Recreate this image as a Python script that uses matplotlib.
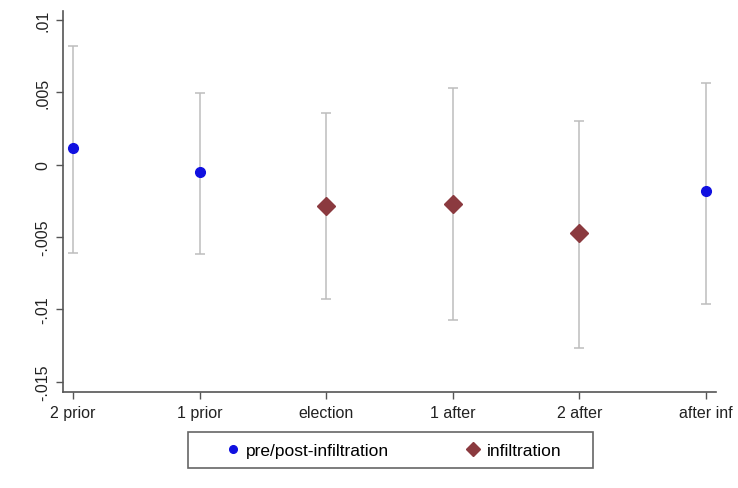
import matplotlib
matplotlib.use("Agg")
import matplotlib.pyplot as plt
from matplotlib.lines import Line2D
from matplotlib.patches import Rectangle
import numpy as np

plt.rcParams['font.family'] = ['Liberation Sans', 'DejaVu Sans']

categories = ["2 prior", "1 prior", "election", "1 after", "2 after", "after inf"]
estimates = [0.00117, -0.00048, -0.00283, -0.0027, -0.0047, -0.00186]
ci_upper = [0.0082, 0.00497, 0.00359, 0.00525, 0.00304, 0.00566]
ci_lower = [-0.0061, -0.0062, -0.00925, -0.0107, -0.01264, -0.0096]
is_infiltration = [False, False, True, True, True, False]
ytick_values = [0.01, 0.005, 0.0, -0.005, -0.01, -0.015]
ytick_labels = [".01", ".005", "0", "-.005", "-.01", "-.015"]

fig = plt.figure(figsize=(7.38, 4.89), dpi=100)
ax = fig.add_axes([0.0854, 0.1963, 0.8846, 0.7792])

x = np.arange(1, len(categories) + 1)
ecol = "#bdbdbd"
ax.vlines(x, ci_lower, ci_upper, color=ecol, lw=1.1, zorder=1)
cap = 0.04
ax.hlines(ci_upper, x - cap, x + cap, color=ecol, lw=1.1, zorder=1)
ax.hlines(ci_lower, x - cap, x + cap, color=ecol, lw=1.1, zorder=1)

blue_x = [xi for xi, f in zip(x, is_infiltration) if not f]
blue_y = [e for e, f in zip(estimates, is_infiltration) if not f]
red_x = [xi for xi, f in zip(x, is_infiltration) if f]
red_y = [e for e, f in zip(estimates, is_infiltration) if f]
ax.plot(blue_x, blue_y, "o", color="#1010e0", ms=7, mec="#1010e0", zorder=3)
ax.plot(red_x, red_y, "D", color="#8b3a3f", ms=9.5, mec="#8b3a3f", zorder=3)

ax.set_xlim(0.92, 6.08)
ax.set_ylim(-0.0157, 0.0106)
ax.set_xticks(x)
ax.set_xticklabels(categories, fontsize=11.5)
ax.set_yticks(ytick_values)
ax.set_yticklabels(ytick_labels, fontsize=11.5, rotation=90, va="center")
for s in ["top", "right"]:
    ax.spines[s].set_visible(False)
for s in ["left", "bottom"]:
    ax.spines[s].set_color("#555555")
    ax.spines[s].set_linewidth(1.2)
ax.tick_params(axis="both", direction="out", length=5, color="#555555", width=1, labelcolor="#222222")
ax.tick_params(axis="x", pad=4)
ax.tick_params(axis="y", pad=4)

fig.patches.append(Rectangle((0.2547, 0.0409), 0.5488, 0.0736, transform=fig.transFigure,
                             fill=False, edgecolor="#666666", lw=1.2, zorder=2))

handles = [
    Line2D([], [], marker="o", ls="", color="#1010e0", ms=5.5, label="pre/post-infiltration"),
    Line2D([], [], marker="D", ls="", color="#8b3a3f", ms=7.5, label="infiltration"),
]
leg = fig.legend(handles=handles, loc="center", bbox_to_anchor=(0.532, 0.0777), ncol=2,
                 fontsize=12.5, frameon=False, handletextpad=0.3,
                 columnspacing=4.3, borderpad=0.55, handlelength=1.0)

fig.savefig("out.png", dpi=100)
